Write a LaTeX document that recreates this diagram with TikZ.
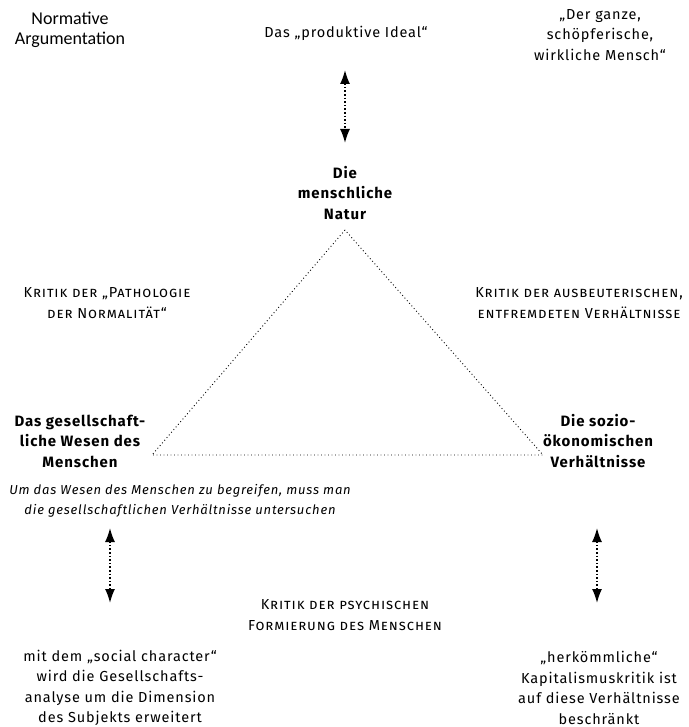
\documentclass[tikz,border=0pt]{standalone}
\usepackage{fontspec}
\setmainfont{Fira Sans}[LetterSpace=6]
\newfontfamily\calib{Carlito}
\usetikzlibrary{arrows.meta}

\tikzset{
  txt/.style={align=center, inner sep=0pt, font=\fontsize{14.5}{20.5}\selectfont},
  fett/.style={txt, font=\fontsize{15}{20.5}\selectfont\bfseries},
  kritik/.style={txt, font=\fontsize{14.5}{20.5}\selectfont\scshape},
  kursiv/.style={txt, font=\fontsize{13}{20}\selectfont\itshape},
  pfeil/.style={line width=1.6pt, dash pattern=on 1.6pt off 2pt,
      {Latex[length=14pt,width=10pt]}-{Latex[length=14pt,width=10pt]}},
  kante/.style={line width=0.9pt, dash pattern=on 0.9pt off 2.6pt}
}

\begin{document}
\begin{tikzpicture}[x=1pt,y=-1pt]
    \useasboundingbox (0,0) rectangle (688,727);

    % Texte oben
    \node[txt, font=\fontsize{18}{20.5}\selectfont\calib] (norm) at (70,30) {Normative\\Argumentation};
    \node[txt] (ideal) at (346,33) {Das „produktive Ideal“};
    \node[txt] (mensch) at (600,35) {„Der ganze,\\schöpferische,\\wirkliche Mensch“};

    % Dreieck
    \node[fett] (natur) at (345,193) {Die\\menschliche\\Natur};
    \node[fett] (wesen) at (80,441) {Das gesellschaft-\\liche Wesen des\\Menschen};
    \node[fett] (verh) at (598,441) {Die sozio-\\ökonomischen\\Verhältnisse};

    \coordinate (spitze) at (345,230);
    \coordinate (links) at (152,455);
    \coordinate (rechts) at (543,455);
    \draw[kante] (spitze) -- (links) -- (rechts) -- cycle;

    \node[kritik] (patho) at (107,303) {Kritik der „Pathologie\\der Normalität“};
    \node[kritik] (ausb) at (579,303) {Kritik der ausbeuterischen,\\entfremdeten Verhältnisse};

    % unten
    \node[kursiv] (begr) at (180,501) {Um das Wesen des Menschen zu begreifen, muss man\\die gesellschaftlichen Verhältnisse untersuchen};
    \node[kritik] (psych) at (345,615) {Kritik der psychischen\\Formierung des Menschen};
    \node[txt] (social) at (120,688) {mit dem „social character“\\wird die Gesellschafts-\\analyse um die Dimension\\des Subjekts erweitert};
    \node[txt] (herk) at (599,688) {„herkömmliche“\\Kapitalismuskritik ist\\auf diese Verhältnisse\\beschränkt};

    % Pfeile
    \coordinate (o1) at (345,70);
    \coordinate (o2) at (345,143);
    \coordinate (l1) at (110,528);
    \coordinate (l2) at (110,603);
    \coordinate (r1) at (597,528);
    \coordinate (r2) at (597,603);
    \draw[pfeil] (o1) -- (o2);
    \draw[pfeil] (l1) -- (l2);
    \draw[pfeil] (r1) -- (r2);
\end{tikzpicture}
\end{document}
